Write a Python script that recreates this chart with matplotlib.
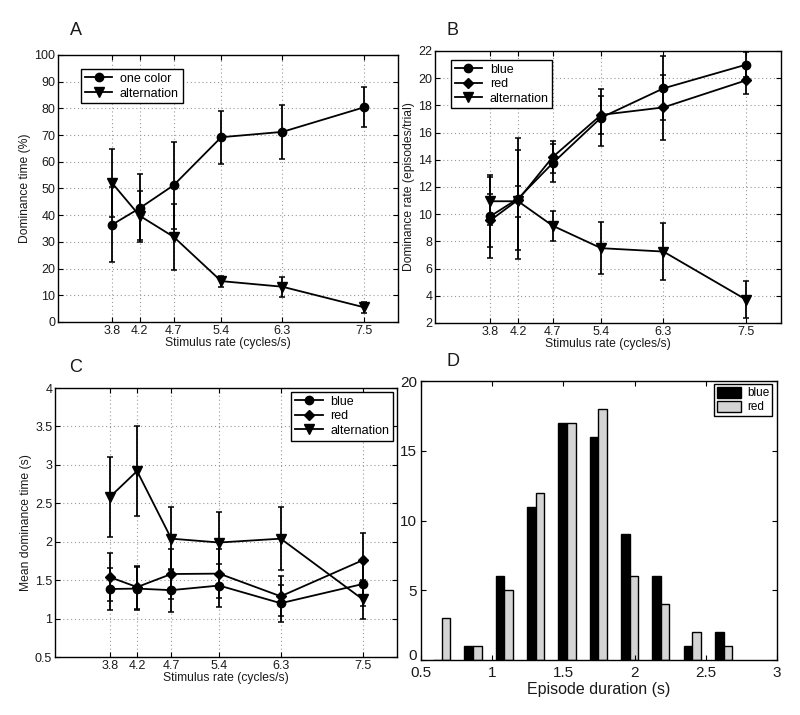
import matplotlib
matplotlib.use("Agg")
import matplotlib.pyplot as plt
from matplotlib.patches import Patch
from matplotlib.lines import Line2D

plt.rcParams['font.family'] = ['Liberation Sans', 'DejaVu Sans']

rates = [3.8, 4.2, 4.7, 5.4, 6.3, 7.5]
rate_labels = ['3.8', '4.2', '4.7', '5.4', '6.3', '7.5']

# Panel A
one_color = [36.5, 42.6, 51.2, 69.2, 71.2, 80.4]
one_color_err = [14.0, 12.7, 16.2, 10.0, 10.1, 7.5]
alt_A = [51.9, 39.8, 31.9, 15.3, 13.2, 5.5]
alt_A_err = [12.7, 9.1, 12.4, 2.1, 3.7, 2.0]

# Panel B
blue_B = [9.85, 11.15, 13.75, 17.1, 19.25, 21.0]
blue_B_err = [3.05, 4.45, 1.4, 2.1, 2.35, 0.9]
red_B = [9.55, 11.05, 14.2, 17.3, 17.85, 19.85]
red_B_err = [1.95, 3.65, 1.2, 1.4, 2.4, 1.0]
alt_B = [10.95, 10.95, 9.15, 7.5, 7.25, 3.7]
alt_B_err = [1.75, 1.15, 1.1, 1.9, 2.1, 1.35]

# Panel C
blue_C = [1.385, 1.39, 1.37, 1.43, 1.2, 1.45]
blue_C_err = [0.275, 0.28, 0.28, 0.285, 0.24, 0.28]
red_C = [1.54, 1.41, 1.58, 1.585, 1.29, 1.76]
red_C_err = [0.31, 0.28, 0.32, 0.32, 0.26, 0.35]
alt_C = [2.58, 2.92, 2.04, 1.99, 2.04, 1.25]
alt_C_err = [0.52, 0.585, 0.41, 0.40, 0.41, 0.25]

# Panel D
bin_centers = [0.645, 0.865, 1.085, 1.305, 1.525, 1.745, 1.965, 2.185, 2.405, 2.625]
blue_counts = [0, 1, 6, 11, 17, 16, 9, 6, 1, 2]
red_counts = [3, 1, 5, 12, 17, 18, 6, 4, 2, 1]

TXT = '#1a1a1a'
fig = plt.figure(figsize=(8.0, 7.15), dpi=100)

def style_axes(ax, grid=True, fs=9):
    ax.tick_params(direction='in', top=True, right=True, length=3.5, width=0.8,
                   labelsize=fs, colors='black', labelcolor=TXT, pad=2)
    for s in ax.spines.values():
        s.set_linewidth(1.0)
    if grid:
        ax.grid(True, linestyle=(0, (1, 2.5)), color='#999999', linewidth=0.8)
        ax.set_axisbelow(True)

def eb(ax, y, err, marker, ms):
    ax.errorbar(rates, y, yerr=err, color='black', marker=marker, markersize=ms,
                linewidth=1.3, elinewidth=1.3, capsize=2.2, capthick=1.1)

def rate_axis(ax):
    ax.set_xlim(3, 8)
    ax.set_xticks(rates)
    ax.set_xticklabels(rate_labels)
    ax.set_xlabel('Stimulus rate (cycles/s)', fontsize=8.7, color=TXT, labelpad=0.5)

def leg_handles(specs):
    return [Line2D([], [], color='black', marker=m, markersize=ms, linewidth=1.3)
            for m, ms in specs]

# A
axA = fig.add_axes([0.0725, 0.5497, 0.425, 0.3734])
style_axes(axA)
eb(axA, one_color, one_color_err, 'o', 6)
eb(axA, alt_A, alt_A_err, 'v', 7)
rate_axis(axA)
axA.set_ylim(0, 100)
axA.set_yticks(range(0, 101, 10))
axA.set_ylabel('Dominance time (%)', fontsize=8.7, color=TXT, labelpad=2)
lg = axA.legend(leg_handles([('o', 6), ('v', 7)]), ['one color', 'alternation'],
                loc='upper left', bbox_to_anchor=(0.068, 0.948), borderaxespad=0,
                fontsize=9, fancybox=False, edgecolor='black', framealpha=1,
                handlelength=2.2, handletextpad=0.6, borderpad=0.3, labelspacing=0.25)
lg.get_frame().set_linewidth(1.0)

# B
axB = fig.add_axes([0.5438, 0.5483, 0.4325, 0.3804])
style_axes(axB)
eb(axB, blue_B, blue_B_err, 'o', 6)
eb(axB, red_B, red_B_err, 'D', 5)
eb(axB, alt_B, alt_B_err, 'v', 7)
rate_axis(axB)
axB.set_ylim(2, 22)
axB.set_yticks(range(2, 23, 2))
axB.set_ylabel('Dominance rate (episodes/trial)', fontsize=8.7, color=TXT, labelpad=2)
lg = axB.legend(leg_handles([('o', 6), ('D', 5), ('v', 7)]), ['blue', 'red', 'alternation'],
                loc='upper left', bbox_to_anchor=(0.046, 0.967), borderaxespad=0,
                fontsize=9, fancybox=False, edgecolor='black', framealpha=1,
                handlelength=2.2, handletextpad=0.6, borderpad=0.3, labelspacing=0.2)
lg.get_frame().set_linewidth(1.0)

# C
axC = fig.add_axes([0.06875, 0.0811, 0.4275, 0.3762])
style_axes(axC)
eb(axC, blue_C, blue_C_err, 'o', 6)
eb(axC, red_C, red_C_err, 'D', 5)
eb(axC, alt_C, alt_C_err, 'v', 7)
rate_axis(axC)
axC.set_ylim(0.5, 4)
axC.set_yticks([0.5, 1, 1.5, 2, 2.5, 3, 3.5, 4])
axC.set_yticklabels(['0.5', '1', '1.5', '2', '2.5', '3', '3.5', '4'])
axC.set_ylabel('Mean dominance time (s)', fontsize=8.7, color=TXT, labelpad=2)
lg = axC.legend(leg_handles([('o', 6), ('D', 5), ('v', 7)]), ['blue', 'red', 'alternation'],
                loc='upper right', bbox_to_anchor=(0.988, 0.985), borderaxespad=0,
                fontsize=9, fancybox=False, edgecolor='black', framealpha=1,
                handlelength=2.2, handletextpad=0.6, borderpad=0.3, labelspacing=0.2)
lg.get_frame().set_linewidth(1.0)

# D
axD = fig.add_axes([0.52625, 0.0769, 0.445, 0.3902])
style_axes(axD, grid=False, fs=11)
w = 0.06
axD.bar([c - w / 2 for c in bin_centers], blue_counts, width=w, color='black',
        edgecolor='black', linewidth=1.0)
axD.bar([c + w / 2 for c in bin_centers], red_counts, width=w, color='#d4d4d4',
        edgecolor='black', linewidth=1.0)
axD.set_xlim(0.5, 3)
axD.set_ylim(0, 20)
axD.set_xticks([0.5, 1, 1.5, 2, 2.5, 3])
axD.set_xticklabels(['0.5', '1', '1.5', '2', '2.5', '3'])
axD.set_yticks([0, 5, 10, 15, 20])
axD.set_yticklabels(['0', '5', '10', '15', '20'])
axD.tick_params(axis='x', pad=4.5)
axD.tick_params(axis='y', pad=3)
axD.get_yticklabels()[0].set_verticalalignment('baseline')
axD.set_xlabel('Episode duration (s)', fontsize=11.5, color=TXT, labelpad=1.5)
lg = axD.legend([Patch(facecolor='black', edgecolor='black'),
                 Patch(facecolor='#d4d4d4', edgecolor='black')], ['blue', 'red'],
                loc='upper right', bbox_to_anchor=(0.986, 0.989), borderaxespad=0,
                fontsize=8.5, fancybox=False, edgecolor='black', framealpha=1,
                handlelength=2.0, handleheight=1.0, handletextpad=0.5,
                borderpad=0.25, labelspacing=0.15)
lg.get_frame().set_linewidth(1.0)

for lbl, x, y in [('A', 0.087, 0.958), ('B', 0.558, 0.958), ('C', 0.087, 0.486), ('D', 0.558, 0.494)]:
    fig.text(x, y, lbl, fontsize=13, ha='left', va='center', color=TXT)

fig.savefig('out.png', dpi=100)
